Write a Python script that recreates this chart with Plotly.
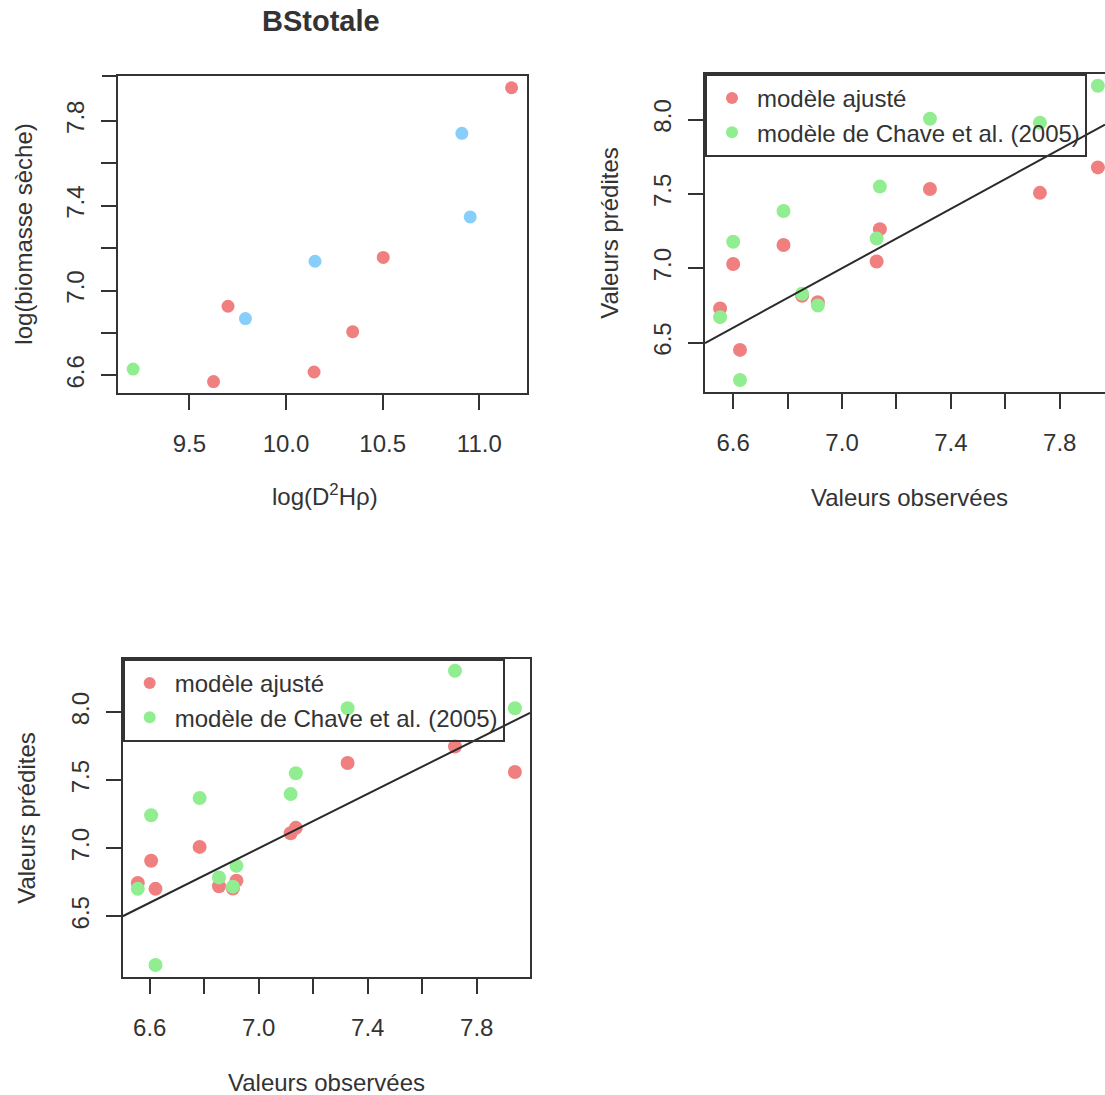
import plotly.graph_objects as go

# ---------------------------------------------------------------------------
# Data
# ---------------------------------------------------------------------------
# Panel 1: log(D²Hρ) vs log(biomasse sèche), points grouped by colour
rouge_x = [9.625, 9.700, 10.145, 10.345, 10.503, 11.167]
rouge_y = [6.571, 6.926, 6.616, 6.806, 7.156, 7.956]
bleu_x = [9.790, 10.150, 10.910, 10.953]
bleu_y = [6.868, 7.138, 7.741, 7.347]
vert_x = [9.209]
vert_y = [6.630]

# Panel 2: observed vs predicted
obs_a = [6.552, 6.600, 6.625, 6.785, 6.853, 6.911, 7.127, 7.139, 7.323, 7.727, 7.940]
ajuste_a = [6.729, 7.029, 6.451, 7.156, 6.815, 6.771, 7.045, 7.263, 7.533, 7.507, 7.678]
chave_a = [6.671, 7.178, 6.249, 7.385, 6.829, 6.749, 7.200, 7.549, 8.005, 7.978, 8.227]

# Panel 3: observed vs predicted
obs_b = [6.556, 6.605, 6.621, 6.783, 6.854, 6.905, 6.918, 7.117, 7.136, 7.326, 7.720, 7.940]
ajuste_b = [6.745, 6.908, 6.702, 7.010, 6.721, 6.705, 6.762, 7.110, 7.150, 7.626, 7.748, 7.560]
chave_b = [6.702, 7.243, 6.143, 7.369, 6.786, 6.718, 6.871, 7.398, 7.551, 8.029, 8.304, 8.029]

legende = ["modèle ajusté", "modèle de Chave et al. (2005)"]

x1_ticks = [9.5, 10.0, 10.5, 11.0]
y1_ticks = [6.6, 6.8, 7.0, 7.2, 7.4, 7.6, 7.8]
obs_ticks = [6.6, 6.8, 7.0, 7.2, 7.4, 7.6, 7.8, 8.0]
pred_ticks = [6.5, 7.0, 7.5, 8.0]

# ---------------------------------------------------------------------------
# Style
# ---------------------------------------------------------------------------
W, H = 1105, 1095
FONT = "Liberation Sans, Arial, Helvetica, sans-serif"
INK = "#333333"
ROUGE = "#F08080"
VERT = "#90EE90"
BLEU = "#87CEFA"
FS = 24


def fx(p):
    return p / W


def fy(p):
    return 1 - p / H


def r_range(*series):
    vals = [v for s in series for v in s]
    lo, hi = min(vals), max(vals)
    d = (hi - lo) * 0.04
    return [lo - d, hi + d]


def every_other(ticks):
    return [f"{t:.1f}" if i % 2 == 0 else "" for i, t in enumerate(ticks)]


def axis(domain, rng, tickvals, ticktext, anchor, is_y=False, mirror=True):
    a = dict(
        domain=domain, range=rng, anchor=anchor, showgrid=False, zeroline=False,
        showline=True, linecolor=INK, linewidth=2, mirror=mirror,
        ticks="outside", ticklen=15, tickwidth=2, tickcolor=INK,
        tickvals=tickvals, ticktext=ticktext,
        tickfont=dict(family=FONT, size=FS, color=INK),
        fixedrange=True,
    )
    if is_y:
        a.update(tickangle=-90, ticklabelstandoff=7)
    else:
        a.update(ticklabelstandoff=13)
    return a


fig = go.Figure()

# Panel 1
for xs, ys, col in [(rouge_x, rouge_y, ROUGE), (bleu_x, bleu_y, BLEU), (vert_x, vert_y, VERT)]:
    fig.add_trace(go.Scatter(x=xs, y=ys, mode="markers", xaxis="x", yaxis="y",
                             marker=dict(color=col, size=13), showlegend=False))

# Panels 2 and 3: fitted model, Chave model
for obs, fit, chave, xa, ya, leg in [
    (obs_a, ajuste_a, chave_a, "x2", "y2", "legend"),
    (obs_b, ajuste_b, chave_b, "x3", "y3", "legend2"),
]:
    fig.add_trace(go.Scatter(x=obs, y=fit, mode="markers", xaxis=xa, yaxis=ya,
                             name=legende[0], legend=leg,
                             marker=dict(color=ROUGE, size=14)))
    fig.add_trace(go.Scatter(x=obs, y=chave, mode="markers", xaxis=xa, yaxis=ya,
                             name=legende[1], legend=leg,
                             marker=dict(color=VERT, size=14)))

# Axis extents
x1r = r_range(rouge_x, bleu_x, vert_x)
y1r = r_range(rouge_y, bleu_y, vert_y)
x2full = r_range(obs_a)
# the right part of panel 2 runs past the page edge
x2r = [x2full[0], x2full[0] + (x2full[1] - x2full[0]) * 400 / 408]
y2r = r_range(ajuste_a, chave_a)
x3r = r_range(obs_b)
y3r = r_range(ajuste_b, chave_b)

# 1:1 reference line
for xa, ya, xr in [("x2", "y2", x2r), ("x3", "y3", x3r)]:
    fig.add_trace(go.Scatter(x=xr, y=xr, mode="lines", xaxis=xa, yaxis=ya,
                             line=dict(color="#2a2a2a", width=2), showlegend=False,
                             hoverinfo="skip"))

dom1x = [fx(118), fx(526.7)]
dom1y = [fy(393.3), fy(76)]
dom2x = [fx(705), 1.0]
dom2y = [fy(391.7), fy(74)]
dom3x = [fx(122.7), fx(530)]
dom3y = [fy(976.7), fy(659)]

leg_style = dict(
    xanchor="left", yanchor="top", bgcolor="rgba(0,0,0,0)",
    bordercolor=INK, borderwidth=2,
    font=dict(family=FONT, size=FS, color=INK),
    itemsizing="constant", itemwidth=40, tracegroupgap=0,
)

fig.update_layout(
    width=W, height=H,
    margin=dict(l=0, r=0, t=0, b=0),
    paper_bgcolor="white", plot_bgcolor="white",
    font=dict(family=FONT, size=FS, color=INK),
    xaxis=axis(dom1x, x1r, x1_ticks, [f"{t:.1f}" for t in x1_ticks], "y"),
    yaxis=axis(dom1y, y1r, y1_ticks, every_other(y1_ticks), "x", is_y=True),
    xaxis2=axis(dom2x, x2r, obs_ticks, every_other(obs_ticks), "y2"),
    yaxis2=axis(dom2y, y2r, pred_ticks, [f"{t:.1f}" for t in pred_ticks], "x2",
                is_y=True, mirror=False),
    xaxis3=axis(dom3x, x3r, obs_ticks, every_other(obs_ticks), "y3"),
    yaxis3=axis(dom3y, y3r, pred_ticks, [f"{t:.1f}" for t in pred_ticks], "x3", is_y=True),
    legend=dict(x=fx(705), y=fy(74), **leg_style),
    legend2=dict(x=fx(122.7), y=fy(659), **leg_style),
    showlegend=True,
)


# Title and axis titles
def note(text, x, y, angle=0, size=FS, bold=False):
    fig.add_annotation(text=text, x=fx(x), y=fy(y), xref="paper", yref="paper",
                       showarrow=False, textangle=angle, xanchor="center", yanchor="middle",
                       font=dict(family=FONT, size=size, color=INK,
                                 weight="bold" if bold else "normal"))


note("BStotale", 321, 21, size=29, bold=True)
note("log(D<sup>2</sup>Hρ)", 325, 495)
note("log(biomasse sèche)", 24, (76 + 393.3) / 2, angle=-90)
note("Valeurs observées", 909, 497)
note("Valeurs prédites", 610, (74 + 391.7) / 2, angle=-90)
note("Valeurs observées", 326, 1082)
note("Valeurs prédites", 27, (659 + 976.7) / 2, angle=-90)

# short stub of the frame's top edge left of panel 1
fig.add_shape(type="line", xref="paper", yref="paper",
              x0=fx(102), x1=fx(118), y0=fy(76), y1=fy(76),
              line=dict(color=INK, width=2))

fig.write_html("out.html")
